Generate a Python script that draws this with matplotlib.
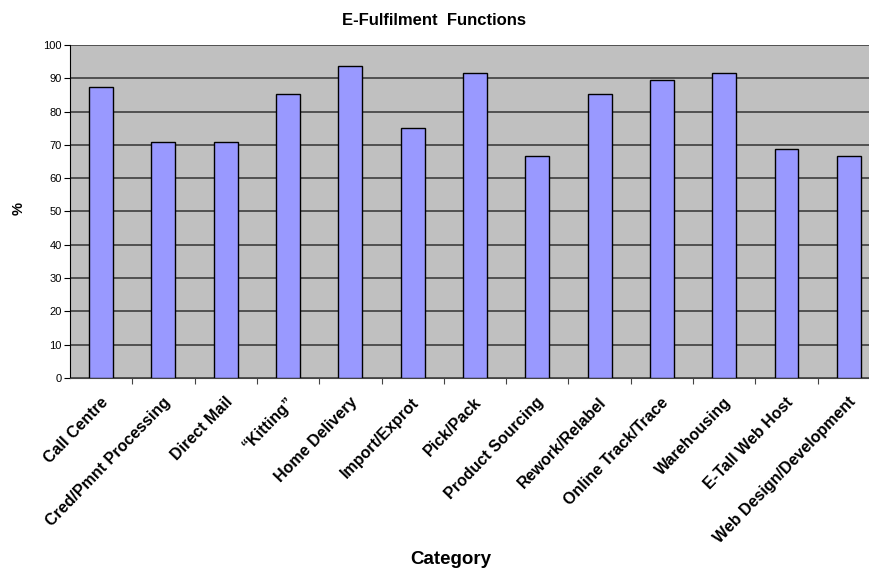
import numpy as np
import matplotlib.pyplot as plt

plt.rcParams['font.family'] = ['Liberation Sans', 'DejaVu Sans']

categories = ['Call Centre', 'Cred/Pmnt Processing', 'Direct Mail', '\u201cKitting\u201d',
              'Home Delivery', 'Import/Exprot', 'Pick/Pack', 'Product Sourcing',
              'Rework/Relabel', 'Online Track/Trace', 'Warehousing', 'E-Tall Web Host',
              'Web Design/Development']
percent = [87.3, 70.8, 70.8, 85.4, 93.6, 75.0, 91.7, 66.7, 85.4, 89.4, 91.7, 68.75, 66.7]
y_ticks = list(range(0, 101, 10))

fig = plt.figure(figsize=(8.69, 5.79), dpi=100)
ax = fig.add_axes([0.0806, 0.3472, 0.932, 0.5751])
ax.set_facecolor('#C0C0C0')

x = np.arange(len(categories))
ax.bar(x, percent, width=0.385, color='#9999FF', edgecolor='black', linewidth=1, zorder=3)

ax.set_xlim(-0.5, len(categories) - 0.5)
ax.set_ylim(0, 100)
ax.set_yticks(y_ticks)
ax.set_yticklabels([str(t) for t in y_ticks], fontsize=8)
ax.yaxis.grid(True, color='#333333', linewidth=1.1, zorder=1)
ax.set_axisbelow(True)

# boundary ticks like Excel, labels centred under bars
ax.set_xticks(x[:-1] + 0.5)
ax.set_xticklabels([])
ax.tick_params(axis='x', length=4, color='#444444')
ax.tick_params(axis='y', length=4, pad=2)
for i, name in enumerate(categories):
    ax.text(i - 0.02, -5, name, rotation=46, ha='right', va='top',
            rotation_mode='anchor', fontsize=11.5, fontweight='bold')

for side in ['top', 'right']:
    ax.spines[side].set_visible(False)
ax.spines['left'].set_color('black')
ax.spines['bottom'].set_color('#444444')

fig.text(0.5, 0.965, 'E-Fulfilment  Functions', ha='center', va='center',
         fontsize=12, fontweight='bold')
fig.text(0.519, 0.019, 'Category', ha='center', va='bottom',
         fontsize=13.5, fontweight='bold')
fig.text(0.021, 0.64, '%', ha='center', va='center', rotation=90,
         fontsize=10.5, fontweight='bold')

fig.savefig('out.png', dpi=100)
